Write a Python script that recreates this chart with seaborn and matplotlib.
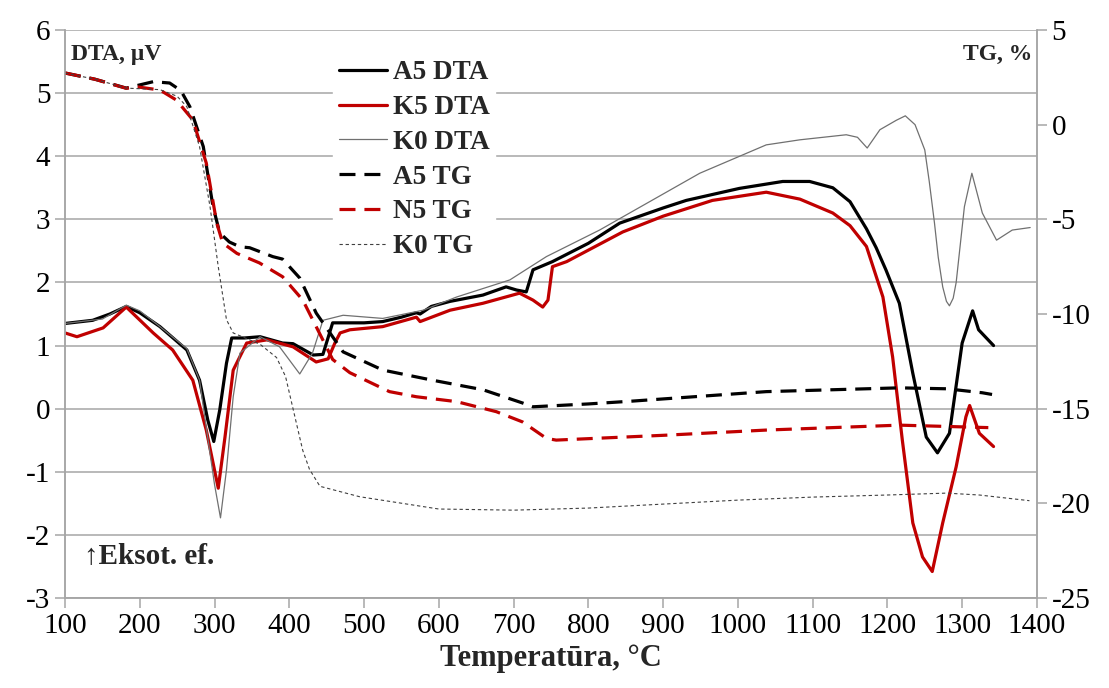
import matplotlib
matplotlib.use("Agg")
import matplotlib.pyplot as plt
import pandas as pd
import seaborn as sns

# DTA curves (left axis, uV)
a5_dta_t = [100, 137, 160, 182, 200, 227, 263, 280, 291, 299, 307, 316, 323, 340, 361, 391, 405,
            432, 445, 451, 458, 476, 500, 525, 550, 570, 575, 590, 615, 659, 690, 704, 717, 726,
            752, 800, 842, 900, 931, 1002, 1060, 1096, 1127, 1150, 1172, 1185, 1198, 1216, 1234,
            1252, 1267, 1283, 1300, 1314, 1322, 1342]
a5_dta = [1.35, 1.40, 1.50, 1.62, 1.52, 1.30, 0.93, 0.45, -0.18, -0.52, -0.02, 0.72, 1.12, 1.12,
          1.14, 1.04, 1.03, 0.85, 0.86, 1.09, 1.36, 1.36, 1.36, 1.38, 1.45, 1.52, 1.50, 1.62, 1.70,
          1.80, 1.93, 1.88, 1.85, 2.20, 2.33, 2.62, 2.94, 3.18, 3.30, 3.49, 3.60, 3.60, 3.50, 3.28,
          2.85, 2.55, 2.20, 1.67, 0.56, -0.45, -0.70, -0.39, 1.04, 1.55, 1.25, 1.00]

k5_dta_t = [100, 116, 151, 182, 218, 244, 271, 289, 305, 314, 325, 343, 370, 405, 436, 452, 461,
            468, 481, 525, 570, 575, 615, 659, 708, 726, 739, 746, 752, 771, 846, 900, 966, 1038,
            1083, 1127, 1150, 1172, 1194, 1207, 1220, 1234, 1247, 1260, 1274, 1292, 1305, 1310,
            1323, 1342]
k5_dta = [1.20, 1.14, 1.28, 1.61, 1.20, 0.93, 0.45, -0.34, -1.26, -0.45, 0.61, 1.04, 1.09, 0.98,
          0.74, 0.79, 1.04, 1.20, 1.25, 1.30, 1.45, 1.38, 1.56, 1.67, 1.83, 1.72, 1.61, 1.72, 2.25,
          2.33, 2.80, 3.05, 3.30, 3.43, 3.32, 3.10, 2.90, 2.57, 1.77, 0.82, -0.50, -1.81, -2.35,
          -2.58, -1.81, -0.92, -0.13, 0.05, -0.39, -0.60]

k0_dta_t = [100, 150, 182, 200, 227, 263, 280, 289, 300, 308, 316, 325, 334, 361, 387, 414, 431,
            445, 472, 525, 579, 624, 695, 744, 815, 949, 1038, 1083, 1145, 1160, 1173, 1190, 1212,
            1224, 1237, 1250, 1256, 1263, 1268, 1274, 1279, 1283, 1288, 1292, 1303, 1313, 1327,
            1346, 1367, 1391]
k0_dta = [1.35, 1.42, 1.64, 1.55, 1.30, 0.95, 0.45, -0.30, -1.20, -1.73, -0.97, 0.19, 0.88, 1.14,
          0.98, 0.55, 0.88, 1.40, 1.48, 1.43, 1.56, 1.77, 2.04, 2.41, 2.83, 3.73, 4.18, 4.26, 4.34,
          4.30, 4.13, 4.42, 4.57, 4.64, 4.50, 4.10, 3.60, 2.94, 2.40, 1.93, 1.70, 1.63, 1.75, 2.00,
          3.20, 3.73, 3.10, 2.67, 2.83, 2.87]

# TG curves (right axis, %)
a5_tg_t = [100, 140, 182, 218, 240, 255, 267, 285, 298, 307, 320, 334, 347, 378, 391, 414, 436,
           472, 525, 592, 659, 712, 726, 800, 859, 1038, 1216, 1280, 1327, 1340]
a5_tg = [2.73, 2.40, 1.93, 2.27, 2.20, 1.80, 0.95, -1.16, -4.33, -5.72, -6.20, -6.45, -6.50, -6.97,
         -7.10, -8.10, -9.95, -12.00, -12.96, -13.50, -14.00, -14.70, -14.90, -14.75, -14.60,
         -14.10, -13.90, -13.95, -14.16, -14.25]

n5_tg_t = [100, 140, 182, 196, 227, 249, 271, 289, 303, 311, 330, 360, 391, 418, 436, 458, 481,
           534, 570, 624, 677, 712, 744, 757, 904, 1038, 1216, 1335]
n5_tg = [2.73, 2.40, 1.92, 2.00, 1.83, 1.30, 0.25, -2.03, -5.20, -6.25, -6.80, -7.30, -8.03, -9.26,
         -10.67, -12.40, -13.10, -14.10, -14.37, -14.63, -15.16, -15.70, -16.57, -16.66, -16.40,
         -16.13, -15.87, -16.00]

k0_tg_t = [100, 140, 182, 227, 250, 263, 280, 294, 305, 316, 325, 361, 383, 395, 405, 418, 427,
           441, 494, 600, 700, 800, 900, 1000, 1100, 1200, 1279, 1323, 1390]
k0_tg = [2.73, 2.40, 1.93, 1.85, 1.50, 0.95, -1.16, -4.33, -7.50, -10.30, -11.00, -11.60, -12.30,
         -13.30, -15.00, -17.20, -18.20, -19.10, -19.65, -20.30, -20.36, -20.25, -20.04, -19.83,
         -19.67, -19.56, -19.46, -19.56, -19.86]

red = "#c00000"
grey_axis = "#a6a6a6"

sns.set_style("white")
plt.rcParams["font.family"] = ["Liberation Serif", "DejaVu Serif"]
plt.rcParams["axes.unicode_minus"] = False

fig = plt.figure(figsize=(11.09, 6.88), dpi=100)
ax = fig.add_axes([0.0586, 0.1308, 0.935 - 0.0586, 0.9564 - 0.1308])
ax2 = ax.twinx()

sns.lineplot(x=a5_dta_t, y=a5_dta, ax=ax, color="black", lw=2.3, label="A5 DTA")
sns.lineplot(x=k5_dta_t, y=k5_dta, ax=ax, color=red, lw=2.3, label="K5 DTA")
sns.lineplot(x=k0_dta_t, y=k0_dta, ax=ax, color="#707070", lw=0.9, label="K0 DTA")

sns.lineplot(x=a5_tg_t, y=a5_tg, ax=ax2, color="black", lw=2.3, label="A5 TG")
sns.lineplot(x=n5_tg_t, y=n5_tg, ax=ax2, color=red, lw=2.3, label="N5 TG")
sns.lineplot(x=k0_tg_t, y=k0_tg, ax=ax2, color="#404040", lw=0.8, label="K0 TG")
ax2.lines[0].set_dashes([5, 2.8])
ax2.lines[1].set_dashes([5, 2.8])
ax2.lines[2].set_dashes([3, 2.5])

ax.set_xlim(100, 1400)
ax.set_ylim(-3, 6)
ax2.set_ylim(-25, 5)
ax.set_xticks(range(100, 1401, 100))
ax.set_yticks(range(-3, 7))
ax2.set_yticks(range(-25, 6, 5))

ax.grid(axis="y", color=grey_axis, lw=1.1)
ax.set_axisbelow(True)
for a in (ax, ax2):
    for side in ("left", "right", "bottom"):
        a.spines[side].set_color(grey_axis)
        a.spines[side].set_linewidth(1.1)
    a.spines["top"].set_visible(False)
    a.tick_params(labelsize=21, colors="black", length=7, width=1.1, color=grey_axis, direction="out")
ax.tick_params(left=True, bottom=True)
ax2.tick_params(right=True)

ax.set_xlabel("Temperatūra, °C", fontsize=22, fontweight="bold", labelpad=4)
ax.set_ylabel("")
ax2.set_ylabel("")

ax.text(0.006, 0.975, "DTA, µV", transform=ax.transAxes, fontsize=17, fontweight="bold",
        ha="left", va="top")
ax2.text(0.995, 0.975, "TG, %", transform=ax.transAxes, fontsize=17, fontweight="bold",
         ha="right", va="top")
ax.text(0.02, 0.05, "↑Eksot. ef.", transform=ax.transAxes, fontsize=21, fontweight="bold",
        ha="left", va="bottom")

h1, l1 = ax.get_legend_handles_labels()
h2, l2 = ax2.get_legend_handles_labels()
ax.get_legend().remove()
ax2.get_legend().remove()
leg = ax2.legend(h1 + h2, l1 + l2, loc="upper left", bbox_to_anchor=(0.262, 0.98),
                 frameon=True, fancybox=False, framealpha=1, edgecolor="white",
                 prop={"size": 19.5, "weight": "bold"}, handlelength=1.8, labelspacing=0.36,
                 handletextpad=0.2, borderpad=0.2)

fig.savefig("out.png", dpi=100)
